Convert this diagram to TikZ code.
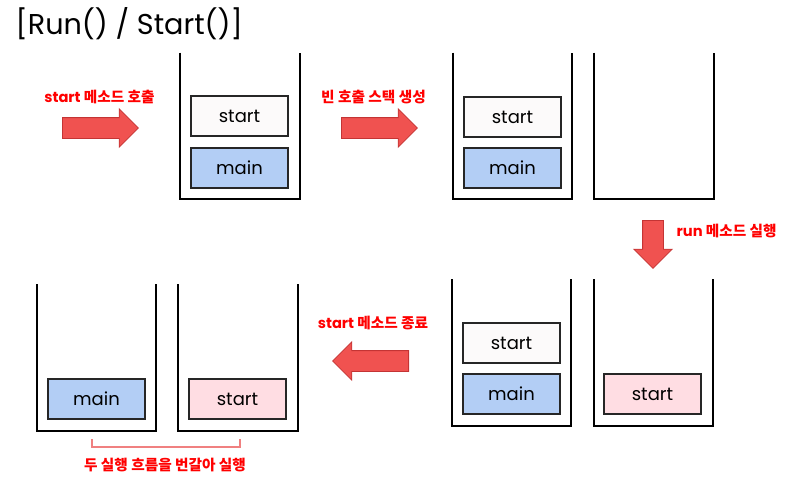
\documentclass[tikz,border=0pt]{standalone}
\usepackage{fontspec}
\setmainfont{Poppins}
\newfontfamily\kr{Noto Sans CJK KR}
\usetikzlibrary{shapes.arrows}
\definecolor{mainblue}{RGB}{179,206,245}
\definecolor{startpink}{RGB}{255,221,227}
\definecolor{startwhite}{RGB}{252,250,250}
\definecolor{arrowred}{RGB}{240,82,80}
\definecolor{arrowedge}{RGB}{196,52,52}
\definecolor{bracketred}{RGB}{240,128,128}
\begin{document}
\begin{tikzpicture}[x=0.75pt,y=-0.75pt]
\tikzstyle{cup}=[minimum width=89.25pt, minimum height=109.5pt, inner sep=0pt]
\tikzstyle{wall}=[black, line width=1.5pt]
\tikzstyle{frame}=[draw=black!85, line width=1.5pt, minimum width=72.75pt, minimum height=30pt, inner sep=0pt, font=\fontsize{13.5}{15}\selectfont]
\tikzstyle{bigarrow}=[single arrow, draw=arrowedge, fill=arrowred, line width=0.6pt, minimum height=57pt, inner xsep=0pt, inner ysep=7.5pt, single arrow head extend=6.6pt, single arrow head indent=0pt, anchor=tail]
\tikzstyle{lbl}=[text=red, font=\bfseries\fontsize{11}{13}\selectfont, inner sep=1pt]
\useasboundingbox (0,0) rectangle (805,483);
\node[anchor=west, font=\fontsize{21.5}{24}\selectfont] (title) at (11,24) {[Run() / Start()]};
% stacks
\node[cup] (s1) at (240,126) {};
\node[cup] (s2) at (512.5,126) {};
\node[cup] (s3) at (654,126) {};
\node[cup] (s4) at (96.5,357.5) {};
\node[cup] (s5) at (238,357.5) {};
\node[cup] (s6) at (511.5,352.5) {};
\node[cup] (s7) at (653.5,352.5) {};
\foreach \s in {s1,s2,s3,s4,s5,s6,s7}
  \draw[wall] (\s.north west) -- (\s.south west) -- (\s.south east) -- (\s.north east);
% frames
\node[frame,fill=startwhite] (f1) at (239.5,116) {start};
\node[frame,fill=mainblue] (m1) at (239.5,167.5) {main};
\node[frame,fill=startwhite] (f2) at (512.5,117) {start};
\node[frame,fill=mainblue] (m2) at (512.5,168) {main};
\node[frame,fill=mainblue] (m4) at (96.5,399) {main};
\node[frame,fill=startpink] (p5) at (237.5,399) {start};
\node[frame,fill=startwhite] (f6) at (511.5,343) {start};
\node[frame,fill=mainblue] (m6) at (511.5,394) {main};
\node[frame,fill=startpink] (p7) at (652.5,394) {start};
% arrows
\node[bigarrow] (a1) at (62,128) {};
\node[bigarrow] (a2) at (341,128) {};
\node[bigarrow, minimum height=36pt, rotate=-90] (a3) at (653,220) {};
\node[bigarrow, rotate=180] (a4) at (409,361) {};
\node[lbl] (l1) at (99.5,97) {start {\kr 메소드 호출}};
\node[lbl] (l2) at (373.5,97) {\kr 빈 호출 스택 생성};
\node[lbl, anchor=west] (l3) at (675,231) {run {\kr 메소드 실행}};
\node[lbl] (l4) at (373,323) {start {\kr 메소드 종료}};
% bracket
\coordinate (bl) at (92,439);
\coordinate (br) at (240,439);
\draw[bracketred, line width=1.2pt] (bl) -- ++(0,8) -| (br);
\node[lbl] (l5) at (165,465) {\kr 두 실행 흐름을 번갈아 실행};
\end{tikzpicture}
\end{document}
